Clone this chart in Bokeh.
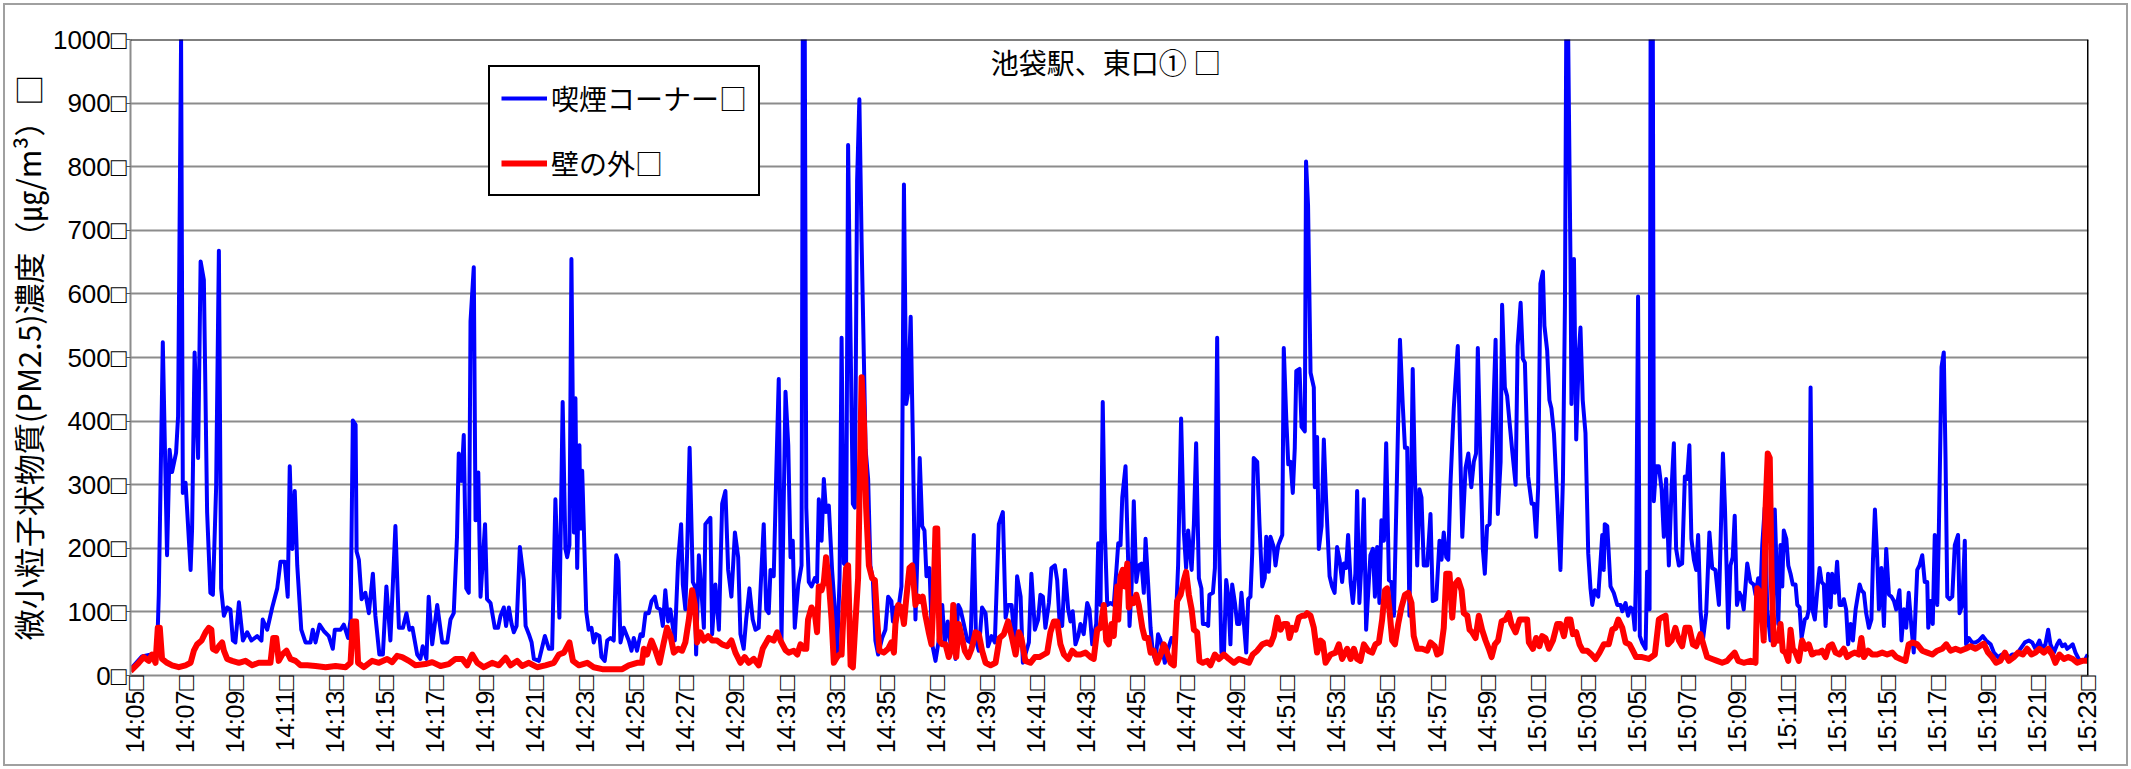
import math
from bokeh.plotting import figure
from bokeh.models import (Range1d, FixedTicker, Legend, LegendItem, Label, Span)
from bokeh.embed import file_html
from bokeh.resources import INLINE

# ---------------- data (minutes after 14:05, PM2.5 µg/m3) ----------------
blue_minutes = [
    -0.16, 0.3, 0.9, 0.97, 1.13, 1.3, 1.4, 1.5, 1.66, 1.74, 1.86, 1.93, 2.04, 2.24, 2.3, 2.4, 2.54, 2.64, 2.77, 2.9,
    3.03, 3.13, 3.26, 3.37, 3.46, 3.57, 3.7, 3.83, 3.93, 4.03, 4.17, 4.33, 4.5, 4.67, 4.9, 5.07, 5.12, 5.3, 5.5, 5.7,
    5.83, 6.0, 6.12, 6.2, 6.3, 6.4, 6.5, 6.66, 6.83, 7.03, 7.12, 7.23, 7.39, 7.56, 7.76, 7.92, 8.0, 8.23, 8.36, 8.53,
    8.63, 8.72, 8.83, 8.87, 8.96, 9.07, 9.22, 9.36, 9.52, 9.62, 9.78, 9.92, 10.06, 10.22, 10.42, 10.56, 10.72, 10.86, 10.98, 11.1,
    11.29, 11.42, 11.51, 11.66, 11.75, 11.89, 12.09, 12.29, 12.49, 12.62, 12.75, 12.88, 12.95, 13.06, 13.15, 13.25, 13.35, 13.42, 13.55, 13.62,
    13.73, 13.82, 14.0, 14.08, 14.22, 14.39, 14.52, 14.62, 14.75, 14.84, 14.95, 15.06, 15.15, 15.26, 15.39, 15.55, 15.62, 15.75, 15.86, 15.95,
    16.15, 16.31, 16.39, 16.55, 16.68, 16.81, 16.97, 17.1, 17.21, 17.28, 17.37, 17.45, 17.55, 17.61, 17.68, 17.77, 17.81, 17.88, 18.04, 18.14,
    18.25, 18.34, 18.44, 18.57, 18.65, 18.78, 18.88, 19.01, 19.14, 19.24, 19.32, 19.41, 19.54, 19.64, 19.74, 19.85, 19.94, 20.07, 20.21, 20.3,
    20.41, 20.54, 20.65, 20.78, 20.87, 21.0, 21.1, 21.2, 21.31, 21.4, 21.58, 21.71, 21.83, 21.9, 22.0, 22.07, 22.17, 22.3, 22.38, 22.43,
    22.54, 22.64, 22.74, 22.8, 23.0, 23.07, 23.2, 23.34, 23.47, 23.6, 23.71, 23.84, 23.98, 24.11, 24.2, 24.33, 24.43, 24.56, 24.69, 24.8,
    24.93, 25.04, 25.13, 25.23, 25.33, 25.4, 25.53, 25.63, 25.73, 25.84, 26.0, 26.11, 26.2, 26.29, 26.37, 26.51, 26.64, 26.69, 26.77, 26.83,
    26.93, 27.04, 27.17, 27.26, 27.33, 27.44, 27.53, 27.62, 27.73, 27.86, 27.97, 28.06, 28.16, 28.24, 28.33, 28.42, 28.5, 28.6, 28.69, 28.77,
    28.86, 28.95, 29.04, 29.2, 29.3, 29.39, 29.49, 29.59, 29.7, 29.86, 29.99, 30.1, 30.23, 30.29, 30.39, 30.53, 30.63, 30.73, 30.82, 30.9,
    31.0, 31.09, 31.19, 31.3, 31.36, 31.46, 31.55, 31.63, 31.75, 31.86, 31.99, 32.12, 32.26, 32.36, 32.48, 32.59, 32.7, 32.79, 32.9, 32.99,
    33.12, 33.26, 33.39, 33.52, 33.61, 33.72, 33.85, 33.99, 34.09, 34.23, 34.36, 34.52, 34.68, 34.79, 34.89, 35.03, 35.16, 35.25, 35.39, 35.48,
    35.58, 35.72, 35.82, 35.96, 36.09, 36.18, 36.28, 36.38, 36.52, 36.62, 36.76, 36.85, 36.94, 37.05, 37.16, 37.29, 37.38, 37.47, 37.58, 37.69,
    37.78, 37.91, 38.05, 38.14, 38.25, 38.41, 38.49, 38.58, 38.67, 38.75, 38.85, 38.98, 39.11, 39.21, 39.29, 39.38, 39.45, 39.58, 39.69, 39.74,
    39.82, 39.91, 40.01, 40.11, 40.22, 40.31, 40.38, 40.48, 40.58, 40.67, 40.78, 40.88, 40.98, 41.15, 41.28, 41.42, 41.55, 41.68, 41.8, 41.91,
    42.0, 42.08, 42.22, 42.31, 42.4, 42.51, 42.61, 42.67, 42.8, 42.88, 42.93, 43.07, 43.15, 43.24, 43.31, 43.41, 43.51, 43.6, 43.68, 43.77,
    43.84, 43.95, 44.04, 44.13, 44.21, 44.31, 44.4, 44.48, 44.57, 44.64, 44.7, 44.84, 44.93, 45.04, 45.14, 45.2, 45.3, 45.37, 45.5, 45.57,
    45.68, 45.84, 45.9, 46.0, 46.08, 46.17, 46.26, 46.34, 46.4, 46.53, 46.61, 46.74, 46.79, 46.87, 46.97, 47.1, 47.14, 47.23, 47.3, 47.41,
    47.5, 47.59, 47.73, 47.83, 47.93, 48.03, 48.13, 48.23, 48.3, 48.39, 48.47, 48.57, 48.66, 48.76, 48.83, 48.92, 49.03, 49.1, 49.19, 49.3,
    49.36, 49.46, 49.54, 49.63, 49.72, 49.8, 49.9, 49.99, 50.1, 50.2, 50.3, 50.43, 50.54, 50.65, 50.74, 50.83, 50.92, 51.05, 51.13, 51.23,
    51.32, 51.4, 51.49, 51.63, 51.76, 51.85, 51.99, 52.12, 52.2, 52.29, 52.39, 52.47, 52.56, 52.69, 52.85, 53.03, 53.16, 53.27, 53.39, 53.49,
    53.58, 53.65, 53.76, 53.85, 53.93, 54.02, 54.12, 54.22, 54.36, 54.45, 54.56, 54.62, 54.73, 54.82, 54.92, 55.02, 55.16, 55.24, 55.36, 55.45,
    55.53, 55.66, 55.8, 55.89, 55.98, 56.06, 56.15, 56.25, 56.31, 56.42, 56.51, 56.59, 56.69, 56.82, 56.95, 57.05, 57.13, 57.18, 57.26, 57.35,
    57.39, 57.49, 57.58, 57.69, 57.75, 57.84, 57.95, 58.06, 58.15, 58.22, 58.32, 58.46, 58.62, 58.68, 58.72, 58.82, 58.95, 59.08, 59.22, 59.35,
    59.42, 59.55, 59.65, 59.75, 59.84, 59.92, 59.97, 60.05, 60.12, 60.21, 60.35, 60.41, 60.51, 60.55, 60.64, 60.68, 60.77, 60.88, 60.99, 61.08,
    61.17, 61.28, 61.39, 61.48, 61.57, 61.68, 61.81, 61.92, 62.01, 62.1, 62.18, 62.28, 62.37, 62.45, 62.54, 62.64, 62.77, 62.9, 63.01, 63.14,
    63.28, 63.38, 63.44, 63.52, 63.65, 63.74, 63.83, 63.91, 64.0, 64.1, 64.18, 64.27, 64.41, 64.54, 64.67, 64.74, 64.85, 64.94, 65.01, 65.11,
    65.21, 65.34, 65.43, 65.51, 65.65, 65.74, 65.81, 65.87, 65.97, 66.05, 66.14, 66.23, 66.34, 66.41, 66.5, 66.58, 66.71, 66.8, 66.87, 66.94,
    67.03, 67.11, 67.2, 67.3, 67.38, 67.47, 67.54, 67.64, 67.74, 67.8, 67.91, 68.0, 68.1, 68.2, 68.27, 68.36, 68.44, 68.54, 68.63, 68.74,
    68.9, 68.97, 69.07, 69.16, 69.27, 69.37, 69.43, 69.51, 69.6, 69.67, 69.77, 69.87, 69.96, 70.07, 70.17, 70.27, 70.36, 70.49, 70.57, 70.67,
    70.76, 70.86, 70.97, 71.06, 71.2, 71.29, 71.4, 71.5, 71.6, 71.64, 71.73, 71.82, 71.9, 72.0, 72.06, 72.17, 72.26, 72.33, 72.4, 72.49,
    72.6, 72.7, 72.83, 72.89, 73.0, 73.1, 73.15, 73.26, 73.39, 73.53, 73.66, 73.82, 73.95, 74.13, 74.26, 74.43, 74.59, 74.79, 74.99, 75.19,
    75.32, 75.5, 75.66, 75.79, 75.92, 76.08, 76.19, 76.32, 76.43, 76.52, 76.66, 76.79, 76.88, 76.99, 77.1, 77.19, 77.32, 77.41, 77.52, 77.65,
    77.79, 77.92, 78.01,
]
blue_values = [
    10, 30, 35, 127, 524, 189, 355, 320, 350, 407, 1000, 287, 303, 166, 231, 508, 342, 651, 622, 257,
    130, 127, 296, 668, 137, 94, 107, 104, 55, 52, 115, 55, 68, 55, 62, 55, 88, 72, 107, 137,
    179, 179, 124, 329, 199, 290, 173, 72, 52, 52, 72, 52, 80, 70, 62, 42, 72, 72, 80, 59,
    88, 401, 394, 195, 182, 120, 130, 98, 160, 94, 33, 33, 140, 55, 235, 75, 75, 98, 72, 75,
    33, 26, 46, 26, 124, 49, 111, 52, 52, 88, 98, 218, 349, 306, 378, 137, 130, 557, 642, 244,
    319, 124, 238, 120, 114, 75, 75, 94, 107, 78, 107, 81, 68, 78, 202, 150, 78, 65, 52, 26,
    23, 49, 62, 42, 42, 277, 91, 430, 199, 186, 205, 655, 225, 436, 169, 362, 231, 322, 101, 72,
    75, 52, 65, 62, 29, 23, 55, 59, 55, 189, 179, 52, 75, 65, 55, 39, 59, 39, 65, 62,
    98, 98, 117, 124, 107, 104, 78, 134, 85, 104, 55, 179, 238, 143, 104, 192, 358, 147, 140, 33,
    189, 134, 75, 238, 248, 65, 143, 72, 270, 290, 166, 124, 225, 186, 65, 42, 88, 137, 88, 72,
    75, 166, 238, 104, 98, 166, 156, 316, 466, 55, 446, 362, 186, 212, 75, 143, 173, 1000, 1000, 264,
    147, 140, 153, 147, 277, 212, 309, 257, 267, 166, 104, 33, 153, 531, 176, 173, 834, 524, 270, 264,
    778, 906, 681, 355, 309, 173, 150, 55, 33, 59, 72, 124, 117, 85, 107, 111, 140, 772, 427, 446,
    564, 362, 88, 231, 342, 235, 228, 156, 169, 49, 23, 55, 111, 49, 85, 49, 104, 26, 111, 104,
    81, 55, 52, 221, 55, 39, 107, 98, 46, 62, 52, 238, 257, 91, 111, 111, 49, 156, 124, 20,
    33, 52, 160, 72, 88, 127, 124, 75, 114, 169, 173, 150, 88, 78, 166, 104, 85, 101, 49, 62,
    81, 65, 114, 104, 49, 81, 208, 111, 430, 231, 111, 114, 111, 163, 208, 205, 280, 329, 173, 78,
    137, 274, 147, 173, 176, 130, 215, 147, 75, 36, 23, 65, 55, 20, 42, 59, 49, 173, 404, 225,
    169, 228, 166, 238, 365, 153, 137, 81, 81, 78, 127, 130, 169, 531, 218, 36, 33, 150, 127, 49,
    143, 114, 81, 81, 130, 81, 36, 120, 124, 192, 342, 336, 238, 140, 153, 218, 163, 218, 202, 173,
    205, 221, 515, 404, 332, 336, 287, 358, 479, 482, 391, 384, 808, 739, 476, 453, 296, 375, 199, 235,
    371, 277, 156, 140, 130, 202, 182, 147, 176, 169, 221, 147, 114, 160, 290, 114, 199, 277, 72, 150,
    189, 199, 124, 202, 114, 244, 212, 365, 150, 147, 94, 329, 528, 427, 358, 358, 94, 482, 329, 173,
    293, 280, 173, 173, 254, 117, 120, 212, 182, 225, 186, 182, 303, 420, 518, 218, 326, 349, 296, 336,
    349, 515, 336, 199, 160, 235, 238, 355, 528, 254, 336, 583, 453, 440, 397, 355, 300, 518, 586, 498,
    492, 313, 270, 270, 218, 296, 616, 635, 550, 511, 433, 420, 381, 277, 166, 309, 583, 1000, 1000, 655,
    427, 655, 371, 511, 547, 433, 381, 192, 137, 111, 134, 124, 221, 166, 238, 235, 140, 130, 111, 111,
    101, 114, 94, 107, 104, 72, 166, 596, 62, 52, 42, 163, 104, 1000, 1000, 274, 329, 329, 293, 218,
    309, 173, 296, 365, 199, 173, 176, 313, 309, 362, 215, 182, 166, 221, 104, 55, 98, 225, 169, 166,
    111, 264, 349, 264, 75, 173, 186, 251, 111, 130, 124, 104, 176, 147, 143, 127, 153, 134, 205, 264,
    104, 55, 72, 261, 81, 205, 140, 228, 215, 173, 160, 143, 143, 111, 107, 59, 88, 91, 104, 453,
    101, 88, 130, 169, 147, 143, 78, 160, 107, 160, 130, 179, 111, 111, 120, 104, 49, 81, 55, 104,
    143, 134, 130, 98, 75, 88, 179, 261, 186, 104, 169, 78, 199, 127, 124, 117, 104, 134, 55, 104,
    75, 130, 75, 36, 166, 173, 189, 147, 147, 75, 117, 81, 221, 111, 221, 485, 508, 342, 124, 120,
    124, 205, 221, 98, 111, 212, 49, 59, 52, 52, 55, 62, 55, 49, 36, 29, 33, 26, 33, 33,
    42, 52, 55, 52, 42, 55, 42, 49, 72, 49, 36, 49, 55, 46, 49, 42, 46, 49, 36, 26,
    23, 26, 33,
]

red_minutes = [
    -0.16, 0.17, 0.37, 0.57, 0.7, 0.84, 0.93, 1.01, 1.1, 1.3, 1.5, 1.77, 2.04, 2.24, 2.37, 2.5, 2.68, 2.84, 2.97, 3.07,
    3.13, 3.26, 3.37, 3.5, 3.57, 3.7, 3.9, 4.17, 4.43, 4.7, 4.96, 5.23, 5.43, 5.54, 5.66, 5.76, 5.9, 6.07, 6.23, 6.43,
    6.63, 6.9, 7.23, 7.63, 8.03, 8.43, 8.63, 8.72, 8.85, 8.93, 9.16, 9.49, 9.76, 10.09, 10.29, 10.49, 10.69, 10.96, 11.22, 11.62,
    11.89, 12.22, 12.55, 12.82, 13.09, 13.29, 13.49, 13.69, 13.95, 14.28, 14.55, 14.82, 15.02, 15.28, 15.48, 15.75, 16.08, 16.41, 16.75, 16.95,
    17.15, 17.37, 17.51, 17.75, 18.08, 18.34, 18.68, 19.08, 19.48, 19.74, 20.07, 20.27, 20.34, 20.47, 20.65, 20.81, 20.97, 21.14, 21.27, 21.41,
    21.54, 21.71, 21.87, 22.0, 22.14, 22.27, 22.38, 22.47, 22.6, 22.74, 22.91, 23.07, 23.27, 23.47, 23.67, 23.84, 24.0, 24.2, 24.37, 24.53,
    24.73, 24.93, 25.09, 25.33, 25.53, 25.67, 25.8, 26.0, 26.13, 26.33, 26.47, 26.6, 26.73, 26.83, 26.9, 27.04, 27.17, 27.26, 27.33, 27.44,
    27.53, 27.62, 27.73, 27.84, 27.93, 28.06, 28.16, 28.24, 28.33, 28.42, 28.5, 28.6, 28.69, 28.8, 28.9, 29.04, 29.13, 29.22, 29.33, 29.46,
    29.57, 29.66, 29.75, 29.93, 30.1, 30.23, 30.33, 30.39, 30.5, 30.63, 30.73, 30.82, 30.95, 31.06, 31.19, 31.3, 31.39, 31.48, 31.59, 31.72,
    31.83, 31.92, 31.99, 32.06, 32.15, 32.26, 32.39, 32.52, 32.63, 32.7, 32.82, 32.92, 33.03, 33.16, 33.3, 33.43, 33.59, 33.72, 33.85, 33.99,
    34.19, 34.39, 34.55, 34.72, 34.89, 35.03, 35.19, 35.32, 35.42, 35.58, 35.78, 35.96, 36.14, 36.32, 36.45, 36.58, 36.72, 36.85, 36.98, 37.12,
    37.29, 37.45, 37.61, 37.78, 37.98, 38.18, 38.31, 38.45, 38.58, 38.71, 38.81, 38.91, 39.02, 39.11, 39.25, 39.29, 39.38, 39.47, 39.55, 39.65,
    39.71, 39.82, 39.91, 40.01, 40.11, 40.25, 40.35, 40.48, 40.58, 40.71, 40.84, 40.98, 41.11, 41.24, 41.38, 41.51, 41.64, 41.78, 41.91, 42.0,
    42.11, 42.22, 42.31, 42.44, 42.53, 42.67, 42.84, 42.97, 43.15, 43.31, 43.51, 43.71, 43.91, 44.11, 44.31, 44.51, 44.66, 44.84, 45.04, 45.24,
    45.37, 45.5, 45.64, 45.77, 45.9, 46.04, 46.13, 46.24, 46.37, 46.5, 46.63, 46.74, 46.83, 46.97, 47.1, 47.23, 47.37, 47.46, 47.57, 47.77,
    47.97, 48.1, 48.23, 48.43, 48.57, 48.7, 48.83, 48.96, 49.1, 49.27, 49.43, 49.56, 49.7, 49.83, 49.94, 50.03, 50.12, 50.23, 50.34, 50.47,
    50.6, 50.74, 50.87, 51.0, 51.09, 51.23, 51.43, 51.63, 51.76, 51.93, 52.03, 52.16, 52.29, 52.39, 52.52, 52.63, 52.73, 52.87, 53.0, 53.09,
    53.23, 53.32, 53.42, 53.56, 53.69, 53.82, 53.96, 54.09, 54.2, 54.33, 54.46, 54.6, 54.76, 54.89, 54.99, 55.16, 55.32, 55.49, 55.62, 55.69,
    55.85, 55.98, 56.11, 56.22, 56.35, 56.49, 56.65, 56.82, 56.95, 57.09, 57.22, 57.35, 57.45, 57.58, 57.71, 57.84, 58.02, 58.19, 58.35, 58.51,
    58.68, 58.88, 59.02, 59.15, 59.26, 59.42, 59.55, 59.71, 59.84, 59.97, 60.21, 60.48, 60.72, 60.88, 60.99, 61.15, 61.25, 61.39, 61.54, 61.68,
    61.81, 61.94, 62.1, 62.24, 62.37, 62.54, 62.68, 62.81, 63.01, 63.21, 63.41, 63.61, 63.74, 63.91, 64.05, 64.27, 64.54, 64.74, 64.81, 64.94,
    65.07, 65.14, 65.23, 65.31, 65.38, 65.47, 65.57, 65.65, 65.74, 65.83, 65.94, 66.05, 66.14, 66.23, 66.34, 66.47, 66.6, 66.74, 66.87, 67.0,
    67.14, 67.27, 67.4, 67.54, 67.67, 67.8, 67.94, 68.1, 68.27, 68.4, 68.54, 68.71, 68.87, 68.97, 69.07, 69.24, 69.4, 69.6, 69.8, 70.0,
    70.2, 70.36, 70.53, 70.73, 70.86, 71.02, 71.2, 71.4, 71.6, 71.8, 72.0, 72.2, 72.36, 72.53, 72.73, 72.93, 73.13, 73.33, 73.53, 73.69,
    73.86, 74.03, 74.19, 74.35, 74.52, 74.7, 74.86, 75.06, 75.23, 75.42, 75.59, 75.76, 75.92, 76.08, 76.26, 76.43, 76.59, 76.72, 76.88, 77.06,
    77.23, 77.41, 77.59, 77.79, 78.01,
]
red_values = [
    7, 20, 29, 23, 33, 20, 75, 75, 26, 20, 16, 13, 16, 20, 39, 49, 55, 68, 75, 72,
    42, 39, 46, 52, 39, 26, 23, 20, 23, 16, 20, 20, 20, 59, 59, 23, 33, 39, 26, 23,
    16, 16, 15, 13, 15, 13, 20, 85, 85, 20, 13, 23, 20, 26, 21, 31, 29, 23, 16, 18,
    21, 15, 18, 26, 26, 16, 33, 20, 13, 20, 16, 28, 16, 23, 15, 20, 13, 16, 20, 33,
    36, 52, 23, 16, 20, 13, 10, 10, 10, 16, 20, 20, 42, 33, 55, 39, 20, 52, 75, 62,
    36, 42, 39, 52, 88, 134, 111, 52, 68, 55, 62, 55, 55, 49, 46, 55, 36, 20, 29, 20,
    26, 16, 42, 59, 55, 68, 55, 40, 36, 39, 33, 49, 42, 42, 88, 107, 98, 68, 140, 134,
    147, 186, 147, 88, 20, 29, 33, 33, 111, 169, 173, 16, 13, 88, 153, 469, 401, 264, 173, 153,
    150, 88, 39, 36, 42, 52, 36, 81, 111, 107, 81, 120, 169, 173, 111, 124, 117, 124, 94, 68,
    49, 130, 231, 231, 55, 49, 49, 29, 42, 111, 29, 81, 62, 39, 29, 42, 68, 65, 39, 20,
    16, 20, 59, 65, 85, 62, 33, 68, 59, 23, 20, 29, 29, 33, 36, 68, 85, 85, 49, 33,
    26, 39, 33, 33, 36, 29, 26, 72, 75, 111, 55, 49, 81, 62, 140, 88, 156, 166, 140, 176,
    107, 120, 114, 127, 111, 75, 59, 59, 36, 39, 20, 33, 49, 36, 20, 16, 117, 127, 150, 163,
    127, 104, 72, 68, 23, 20, 23, 16, 33, 26, 33, 26, 20, 26, 23, 20, 33, 39, 49, 52,
    49, 62, 91, 72, 81, 81, 59, 75, 72, 91, 94, 94, 98, 94, 75, 36, 55, 52, 20, 33,
    36, 49, 26, 42, 26, 42, 26, 23, 49, 39, 36, 49, 52, 88, 134, 137, 104, 55, 49, 81,
    107, 127, 130, 114, 62, 42, 42, 39, 52, 46, 33, 36, 75, 160, 160, 91, 143, 150, 134, 98,
    94, 72, 68, 59, 94, 72, 55, 42, 29, 49, 55, 85, 88, 98, 81, 68, 88, 88, 88, 52,
    42, 59, 46, 62, 59, 42, 55, 81, 81, 62, 88, 88, 65, 68, 49, 39, 39, 33, 26, 36,
    49, 49, 72, 75, 88, 75, 52, 49, 39, 29, 29, 26, 33, 88, 91, 94, 49, 55, 75, 55,
    46, 75, 75, 49, 46, 65, 46, 29, 26, 23, 20, 23, 29, 36, 23, 20, 23, 20, 137, 130,
    55, 261, 349, 342, 166, 49, 62, 55, 81, 39, 36, 23, 72, 42, 36, 23, 55, 42, 49, 33,
    36, 36, 39, 29, 46, 49, 36, 33, 42, 29, 33, 36, 33, 59, 29, 39, 33, 33, 36, 33,
    36, 29, 26, 23, 49, 52, 49, 39, 36, 33, 39, 42, 49, 39, 42, 39, 42, 46, 42, 46,
    50, 36, 29, 20, 23, 36, 23, 29, 36, 33, 42, 33, 36, 42, 36, 42, 33, 20, 33, 26,
    29, 26, 20, 23, 23,
]

x_tick_minutes = [0, 2, 4, 6, 8, 10, 12, 14, 16, 18, 20, 22, 24, 26, 28, 30, 32, 34, 36, 38,
                  40, 42, 44, 46, 48, 50, 52, 54, 56, 58, 60, 62, 64, 66, 68, 70, 72, 74, 76, 78]
x_tick_labels = ["14:05□", "14:07□", "14:09□", "14:11□", "14:13□", "14:15□", "14:17□", "14:19□",
                 "14:21□", "14:23□", "14:25□", "14:27□", "14:29□", "14:31□", "14:33□", "14:35□",
                 "14:37□", "14:39□", "14:41□", "14:43□", "14:45□", "14:47□", "14:49□", "14:51□",
                 "14:53□", "14:55□", "14:57□", "14:59□", "15:01□", "15:03□", "15:05□", "15:07□",
                 "15:09□", "15:11□", "15:13□", "15:15□", "15:17□", "15:19□", "15:21□", "15:23□"]
y_tick_values = [0, 100, 200, 300, 400, 500, 600, 700, 800, 900, 1000]
y_tick_labels = ["0□", "100□", "200□", "300□", "400□", "500□", "600□", "700□", "800□", "900□", "1000□"]

series_names = ["喫煙コーナー□", "壁の外□"]
chart_title = "池袋駅、東口① □"
y_title = "微小粒子状物質(PM2.5)濃度（㎍/m³）□"

CJK = "Noto Sans CJK JP"
LAT = "Liberation Sans"

p = figure(width=2131, height=769,
           x_range=Range1d(-0.16, 78.04), y_range=Range1d(0, 1000),
           output_backend="svg", toolbar_location=None,
           min_border_left=130, min_border_right=43, min_border_top=39, min_border_bottom=94)
p.outline_line_color = None
p.background_fill_color = "white"
p.border_fill_color = "white"

p.xgrid.visible = False
p.ygrid.grid_line_color = "#8c8c8c"
p.ygrid.grid_line_width = 2

# x axis
p.xaxis.ticker = FixedTicker(ticks=x_tick_minutes)
p.xaxis.major_label_overrides = {m: lab for m, lab in zip(x_tick_minutes, x_tick_labels)}
p.xaxis.major_label_orientation = math.pi / 2
p.xaxis.major_label_text_font = LAT
p.xaxis.major_label_text_font_size = "25px"
p.xaxis.major_label_text_color = "black"
p.xaxis.major_label_standoff = 0
p.xaxis.major_tick_out = 0
p.xaxis.major_tick_in = 0
p.xaxis.minor_tick_out = 0
p.xaxis.minor_tick_in = 0
p.xaxis.axis_line_color = "#8c8c8c"
p.xaxis.axis_line_width = 2

# y axis
p.yaxis.ticker = FixedTicker(ticks=y_tick_values)
p.yaxis.major_label_overrides = {v: lab for v, lab in zip(y_tick_values, y_tick_labels)}
p.yaxis.major_label_text_font = LAT
p.yaxis.major_label_text_font_size = "26px"
p.yaxis.major_label_text_color = "black"
p.yaxis.major_label_standoff = 0
p.yaxis.major_tick_out = 4
p.yaxis.major_tick_in = 0
p.yaxis.major_tick_line_color = "#555555"
p.yaxis.minor_tick_out = 0
p.yaxis.minor_tick_in = 0
p.yaxis.axis_line_color = "#8c8c8c"
p.yaxis.axis_line_width = 2
p.yaxis.axis_label = y_title
p.yaxis.axis_label_text_font = CJK
p.yaxis.axis_label_text_font_size = "31px"
p.yaxis.axis_label_text_font_style = "normal"
p.yaxis.axis_label_text_color = "black"
p.yaxis.axis_label_standoff = 0

# frame top / right borders
p.add_layout(Span(location=1000, dimension="width", line_color="black", line_width=2))
p.add_layout(Span(location=78.02, dimension="height", line_color="black", line_width=2))

blue_r = p.line(blue_minutes, blue_values, line_color="#0000ff", line_width=4, line_join="round")
red_r = p.line(red_minutes, red_values, line_color="#ff0000", line_width=6, line_join="round")

legend = Legend(items=[LegendItem(label=series_names[0], renderers=[blue_r]),
                       LegendItem(label=series_names[1], renderers=[red_r])],
                location=(358, 479), orientation="vertical",
                border_line_color="black", border_line_width=2, border_line_alpha=1,
                background_fill_color="white", background_fill_alpha=1,
                label_text_font=CJK, label_text_font_size="28px", label_text_color="black",
                glyph_width=46, glyph_height=34, label_height=34, spacing=25, padding=11,
                label_standoff=4, margin=0)
p.add_layout(legend)

p.add_layout(Label(x=38.8, y=964, text=chart_title, text_align="center", text_baseline="middle",
                   text_font=CJK, text_font_size="28px", text_color="black"))

html = file_html(p, INLINE)
# thin grey chart-area border drawn around the whole picture
border_css = ("<style>body::after { content: \"\"; position: fixed; left: 3px; top: 3px; "
              "width: 2125px; height: 763px; box-sizing: border-box; border: 2px solid #a0a0a0; "
              "pointer-events: none; z-index: 100; }</style>")
html = html.replace("</head>", border_css + "\n</head>", 1)
open("out.html", "w").write(html)
